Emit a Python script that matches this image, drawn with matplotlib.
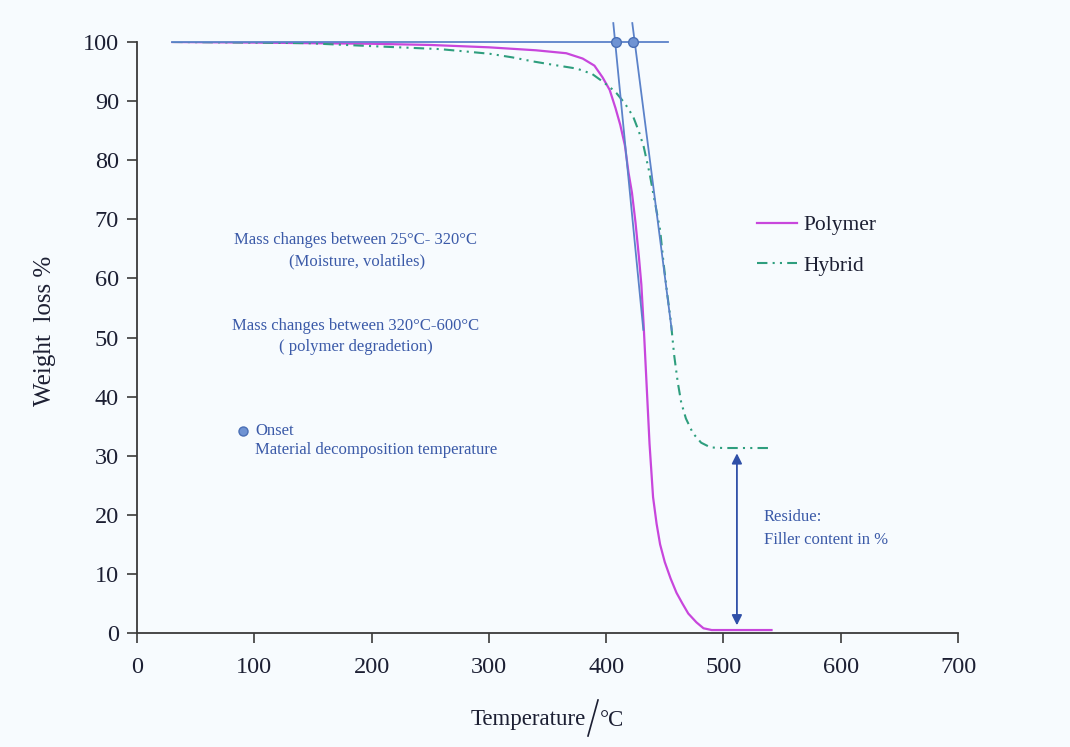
import matplotlib
matplotlib.use("Agg")
import matplotlib.pyplot as plt
from matplotlib.lines import Line2D

# ---------------- data ----------------
polymer_T = [30, 100, 150, 200, 250, 300, 340, 366, 380, 390, 397, 403, 408, 412,
             416, 419, 422, 425, 428, 430, 432, 434.5, 437, 440, 443, 446, 450,
             455, 460, 465, 470, 477, 483, 490, 541]
polymer_W = [100, 99.9, 99.8, 99.7, 99.5, 99.1, 98.6, 98.1, 97.2, 96.0, 94.0, 91.9,
             88.8, 86.0, 82.5, 78, 74.5, 69.5, 63.5, 59, 52, 42, 32, 23, 18.5, 15,
             12, 9.2, 6.8, 5.0, 3.3, 1.8, 0.8, 0.5, 0.5]

hybrid_T = [30, 100, 145, 200, 258, 280, 301, 320, 338, 356, 375, 388, 395, 403,
            409, 416, 423, 428, 432, 437, 441, 446, 449, 452, 455, 458, 461, 464,
            468, 474, 481, 489, 500, 541]
hybrid_W = [100, 99.9, 99.8, 99.3, 98.8, 98.4, 98.0, 97.4, 96.7, 96.1, 95.5, 94.6,
            93.6, 92.4, 91.3, 89.6, 87.4, 84.8, 82.3, 77.8, 73.5, 68.2, 62.5, 57.5,
            53, 47, 42.5, 39, 36.3, 33.8, 32.2, 31.4, 31.3, 31.3]

onset_baseline_T = [30, 452.7]
onset_baseline_W = [100, 100]
tangent1_T = [406.1, 431.7]
tangent1_W = [103.2, 51.3]
tangent2_T = [422.3, 455.9]
tangent2_W = [103.2, 51.3]
onset_T = [408.4, 423.2]
onset_W = [100, 100]

residue_T = 511.5
residue_top = 30.4
residue_bottom = 1.3

x_ticks = [0, 100, 200, 300, 400, 500, 600, 700]
y_ticks = [0, 10, 20, 30, 40, 50, 60, 70, 80, 90, 100]

# ---------------- style ----------------
BG = '#f7fbfe'
SERIF = ['Liberation Serif', 'DejaVu Serif']
plt.rcParams['font.family'] = SERIF
TXT = '#1c1f33'
ANN = '#3b5aa8'
BLUE = '#5b82c9'

fig = plt.figure(figsize=(10.70, 7.47), dpi=100, facecolor=BG)
ax = fig.add_axes([137/1070, 1-633/747, 821/1070, 591/747], facecolor=BG)

ax.plot(polymer_T, polymer_W, color='#c846dc', lw=1.6, label='Polymer', zorder=3)
ax.plot(hybrid_T, hybrid_W, color='#2e9e7e', lw=1.5,
        dashes=(5, 2.5, 1, 2.5, 1, 2.5), label='Hybrid', zorder=3)

# onset construction lines
ax.plot(onset_baseline_T, onset_baseline_W, color=BLUE, lw=1.3, clip_on=False, zorder=4)
ax.plot(tangent1_T, tangent1_W, color=BLUE, lw=1.3, clip_on=False, zorder=4)
ax.plot(tangent2_T, tangent2_W, color=BLUE, lw=1.3, clip_on=False, zorder=4)
ax.plot(onset_T, onset_W, 'o', color='#6f93d3', mec='#4a6fb5', ms=7, mew=1,
        clip_on=False, zorder=5)

# residue arrow
ax.annotate('', xy=(residue_T, residue_bottom), xytext=(residue_T, residue_top),
            arrowprops=dict(arrowstyle='<|-|>', color='#3050a8', lw=1.3,
                            mutation_scale=15, shrinkA=0, shrinkB=0))

ax.set_xlim(0, 700)
ax.set_ylim(0, 100)
ax.set_xticks(x_ticks)
ax.set_yticks(y_ticks)
for s in ['top', 'right']:
    ax.spines[s].set_visible(False)
for s in ['left', 'bottom']:
    ax.spines[s].set_color('#3a3a3a')
    ax.spines[s].set_linewidth(1.3)
ax.tick_params(axis='both', direction='out', length=7, width=1.2, color='#3a3a3a',
               labelsize=17.5, labelcolor=TXT)
ax.tick_params(axis='y', pad=6)
ax.tick_params(axis='x', pad=10)

ax.set_ylabel('Weight  loss %', fontsize=18, color=TXT)
ax.yaxis.set_label_coords(-0.0985, 0.511)

# x label composed: Temperature / °C with tall slash
fig.text(586/1070, 1-720/747, 'Temperature', ha='right', va='center', fontsize=16.5, color=TXT)
fig.add_artist(Line2D([588/1070, 598/1070], [1-736/747, 1-700/747], color=TXT, lw=1.2))
fig.text(600/1070, 1-720/747, '°C', ha='left', va='center', fontsize=16.5, color=TXT)

# annotations
FS = 12
ax.text(186.7, 66.5, 'Mass changes between 25°C- 320°C', ha='center', va='center',
        fontsize=FS, color=ANN)
ax.text(187.6, 62.8, '(Moisture, volatiles)', ha='center', va='center',
        fontsize=FS, color=ANN)
ax.text(186.7, 51.9, 'Mass changes between 320°C-600°C', ha='center', va='center',
        fontsize=FS, color=ANN)
ax.text(186.7, 48.4, '( polymer degradetion)', ha='center', va='center',
        fontsize=FS, color=ANN)
ax.plot([90.6], [34.2], 'o', color='#6f93d3', mec='#4a6fb5', ms=6.5, mew=1)
ax.text(100.6, 34.2, 'Onset', ha='left', va='center', fontsize=FS, color=ANN)
ax.text(100.6, 31.0, 'Material decomposition temperature', ha='left', va='center',
        fontsize=FS, color=ANN)
ax.text(534.6, 19.6, 'Residue:', ha='left', va='center', fontsize=FS, color=ANN)
ax.text(534.6, 15.7, 'Filler content in %', ha='left', va='center', fontsize=FS, color=ANN)

leg = ax.legend(loc='upper left', bbox_to_anchor=(757/1070, 1-215/747),
                bbox_transform=fig.transFigure, frameon=False, fontsize=15.5,
                handlelength=1.86, handletextpad=0.3, labelspacing=0.95,
                borderpad=0, borderaxespad=0)
for t in leg.get_texts():
    t.set_color(TXT)

fig.savefig('out.png', dpi=100, facecolor=BG)
